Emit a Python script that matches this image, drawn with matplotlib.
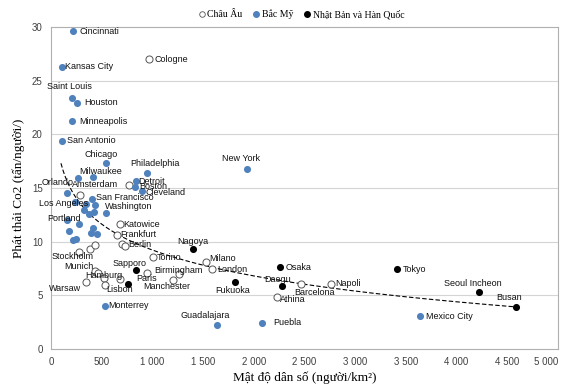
import matplotlib
matplotlib.use("Agg")
import matplotlib.pyplot as plt
from matplotlib.lines import Line2D
import numpy as np

# ---- data: population density (people/km²) vs CO2 emissions (t/person) ----
eu_names = ["Cologne", "Amsterdam", "", "Katowice", "Frankfurt", "", "Berlin", "", "",
            "Stockholm", "Torino", "Munich", "", "Hamburg", "", "Warsaw", "Lisbon",
            "Paris", "Manchester", "Birmingham", "Milano", "London", "Athina",
            "Barcelona", "Napoli"]
eu_density = [968, 771, 285, 679, 653, 696, 728, 384, 433, 276, 1001, 433, 466, 522,
              531, 341, 679, 948, 1204, 1262, 1526, 1591, 2228, 2467, 2763]
eu_co2 = [27.0, 15.3, 14.35, 11.6, 10.6, 9.75, 9.55, 9.3, 9.7, 9.07, 8.6, 7.27, 7.05,
          6.6, 5.96, 6.27, 6.5, 7.05, 6.43, 7.0, 8.14, 7.43, 4.87, 6.03, 6.06]

na_names = ["Cincinnati", "Kansas City", "Saint Louis", "Houston", "Minneapolis",
            "San Antonio", "Chicago", "Philadelphia", "Milwaukee", "Orlando", "Detroit",
            "Boston", "Cleveland", "", "San Francisco", "", "Los Angeles", "", "", "",
            "", "Washington", "Portland", "", "", "", "", "", "", "", "Monterrey",
            "Guadalajara", "Puebla", "Mexico City", "New York"]
na_density = [213, 111, 203, 259, 207, 105, 541, 942, 417, 262, 837, 833, 902, 154,
              407, 236, 341, 433, 328, 377, 426, 541, 154, 273, 177, 219, 246, 416,
              394, 456, 531, 1641, 2077, 3639, 1932]
na_co2 = [29.6, 26.3, 23.4, 22.95, 21.2, 19.4, 17.3, 16.4, 16.0, 15.9, 15.65, 15.07,
          14.75, 14.5, 14.0, 13.7, 13.5, 13.4, 12.95, 12.6, 12.8, 12.7, 12.0, 11.6,
          11.0, 10.2, 10.25, 11.25, 10.85, 10.7, 4.05, 2.2, 2.45, 3.07, 16.75]

jk_names = ["Nagoya", "Sapporo", "", "Fukuoka", "Osaka", "Daegu", "Tokyo",
            "Seoul Incheon", "Busan"]
jk_density = [1401, 843, 761, 1811, 2261, 2277, 3409, 4222, 4590]
jk_co2 = [9.29, 7.36, 6.06, 6.27, 7.61, 5.87, 7.43, 5.28, 3.89]

# logarithmic trend line: co2 = a + b * ln(density)
trend_a, trend_b = 33.26, -3.48
trend_range = (98, 4590)

x_ticks = [0, 500, 1000, 1500, 2000, 2500, 3000, 3500, 4000, 4500, 5000]
x_tick_labels = ["0", "500", "1 000", "1 500", "2 000", "2 500", "3 000", "3 500",
                 "4 000", "4 500", "5 000"]
y_ticks = [0, 5, 10, 15, 20, 25, 30]

# label placement: offset in pixels from the marker and horizontal alignment
label_pos = {
    "Cincinnati": (7, 0, "left"), "Kansas City": (3, 0, "left"),
    "Saint Louis": (-2, 11, "center"), "Houston": (7, 0, "left"),
    "Minneapolis": (7, 0, "left"), "San Antonio": (5, 0, "left"),
    "Chicago": (-5, 9, "center"), "Philadelphia": (8, 9, "center"),
    "Milwaukee": (7, 5.5, "center"), "Orlando": (-3.5, -4, "right"),
    "Detroit": (2, 0, "left"), "Boston": (4, 0.5, "left"),
    "Cleveland": (3.5, -2, "left"), "San Francisco": (4, 1.5, "left"),
    "Los Angeles": (3, 1, "right"), "Washington": (-1, 6.5, "left"),
    "Portland": (-3, 1.5, "center"), "Monterrey": (3.5, 0, "left"),
    "Guadalajara": (-12.5, 9.5, "center"), "Puebla": (12, 0, "left"),
    "Mexico City": (6, 0, "left"), "New York": (-5.5, 11, "center"),
    "Cologne": (5.5, 0, "left"), "Amsterdam": (-11, 0, "right"),
    "Katowice": (3.5, 0, "left"), "Frankfurt": (3, 1, "left"),
    "Berlin": (3, 1.5, "left"), "Stockholm": (-6.5, -5, "center"),
    "Torino": (4, -1, "left"), "Munich": (-1, 4.5, "right"),
    "Hamburg": (0, 3, "center"), "Warsaw": (-4, -6.5, "right"),
    "Lisbon": (0, -10.5, "center"), "Paris": (-1, -5, "center"),
    "Manchester": (-6, -6.5, "center"), "Birmingham": (-1, 3, "center"),
    "Milano": (4, 3, "left"), "London": (5, 0, "left"),
    "Athina": (3, -3, "left"), "Barcelona": (13, -8, "center"),
    "Napoli": (4, 0.5, "left"), "Nagoya": (0, 7.5, "center"),
    "Sapporo": (-6.5, 6.5, "center"), "Fukuoka": (-2, -8.5, "center"),
    "Osaka": (5, 0, "left"), "Daegu": (-4, 6, "center"),
    "Tokyo": (6, 0, "left"), "Seoul Incheon": (-6, 9, "center"),
    "Busan": (-7, 10, "center"),
}

sans = "Liberation Sans"
serif = "Liberation Serif"
blue = "#4f81bd"

fig = plt.figure(figsize=(5.62, 3.85), dpi=100)
ax = fig.add_axes([51 / 562, 1 - 349 / 385, (558 - 51) / 562, (349 - 27) / 385])

ax.set_xlim(0, 5000)
ax.set_ylim(0, 30)
for gy in y_ticks[1:-1]:
    ax.axhline(gy, color="#d4d4d4", lw=0.8, zorder=0)
for side in ["left", "right", "top", "bottom"]:
    ax.spines[side].set_color("#b0b0b0")
    ax.spines[side].set_linewidth(0.8)

ax.set_xticks(x_ticks)
ax.set_xticklabels(x_tick_labels)
ax.set_yticks(y_ticks)
ax.tick_params(length=0, labelsize=7, colors="#404040", pad=6)
for t in ax.get_xticklabels() + ax.get_yticklabels():
    t.set_fontfamily(sans)
ax.get_xticklabels()[-1].set_horizontalalignment("right")

# trend line
tx = np.linspace(trend_range[0], trend_range[1], 200)
ax.plot(tx, trend_a + trend_b * np.log(tx), color="black", lw=0.8,
        ls=(0, (4, 2)), zorder=2)

ax.scatter(eu_density, eu_co2, s=26, facecolor="white", edgecolor="#555555",
           linewidth=0.7, zorder=3)
ax.scatter(na_density, na_co2, s=26, color=blue, linewidth=0, zorder=3)
ax.scatter(jk_density, jk_co2, s=26, color="black", linewidth=0, zorder=3)

for names, xs, ys in [(eu_names, eu_density, eu_co2), (na_names, na_density, na_co2),
                      (jk_names, jk_density, jk_co2)]:
    for n, x, y in zip(names, xs, ys):
        if not n:
            continue
        dx, dy, ha = label_pos[n]
        ax.annotate(n, (x, y), xytext=(dx, dy), textcoords="offset pixels",
                    ha=ha, va="center", fontsize=6.5, family=sans, color="#111111",
                    zorder=4)

ax.set_xlabel("Mật độ dân số (người/km²)", family=serif, fontsize=9.5, labelpad=3)
ax.set_ylabel("Phát thải Co2 (tấn/người/)", family=serif, fontsize=9.5, labelpad=5)

handles = [
    Line2D([], [], marker="o", ls="", markersize=4, markerfacecolor="white",
           markeredgecolor="#555555", markeredgewidth=0.6),
    Line2D([], [], marker="o", ls="", markersize=4, color=blue),
    Line2D([], [], marker="o", ls="", markersize=4, color="black"),
]
fig.legend(handles, ["Châu Âu", "Bắc Mỹ", "Nhật Bản và Hàn Quốc"], loc="center",
           bbox_to_anchor=(0.535, 0.963), ncol=3, frameon=False,
           prop={"family": serif, "size": 7}, handletextpad=0.1,
           columnspacing=0.9, handlelength=1.0)

fig.savefig("out.png", dpi=100)
